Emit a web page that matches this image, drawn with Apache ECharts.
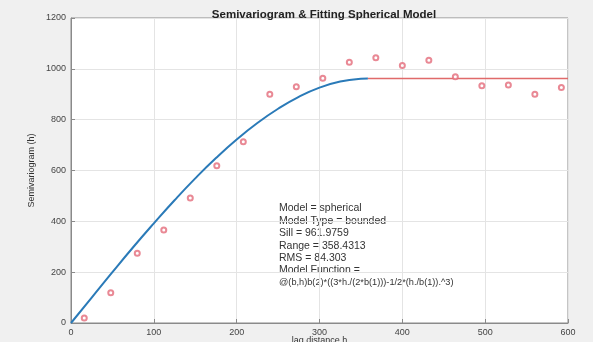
<!DOCTYPE html>
<html>
<head>
<meta charset="utf-8">
<script src="https://cdn.jsdelivr.net/npm/echarts@6/dist/echarts.min.js"></script>
<style>
  html, body { margin: 0; padding: 0; background: #f0f0f0; }
  #chart { width: 593px; height: 342px; }
</style>
</head>
<body>
<div id="chart"></div>
<script>
// experimental semivariogram points (lag, gamma)
const lagValues = [16, 48, 80, 112, 144, 176, 208, 240, 272, 304, 336, 368, 400, 432, 464, 496, 528, 560, 592];
const gammaValues = [20, 119, 274, 366, 492, 619, 713, 900, 930, 963, 1026, 1044, 1013, 1034, 969, 933, 936, 900, 927];

// fitted spherical curve
const modelLag = [0, 25, 50, 75, 100, 125, 150, 175, 200, 225, 250, 275, 300, 325, 350, 358.4313];
const modelGamma = [0, 100, 200, 298, 392, 483, 569, 649, 722, 787, 843, 890, 926, 950, 961, 961.9759];

// sill beyond the range
const sillLag = [358.4313, 600];
const sillGamma = [961.9759, 961.9759];

const xTicks = [0, 100, 200, 300, 400, 500, 600];
const yTicks = [0, 200, 400, 600, 800, 1000, 1200];

const infoLines = [
  "Model = spherical",
  "Model Type = bounded",
  "Sill = 961.9759",
  "Range = 358.4313",
  "RMS = 84.303",
  "Model Function =",
];
const funcLine = "@(b,h)b(2)*((3*h./(2*b(1)))-1/2*(h./b(1)).^3)";

const zip = (xs, ys) => xs.map((x, i) => [x, ys[i]]);

const chart = echarts.init(document.getElementById("chart"));
const option = {
  backgroundColor: "#f0f0f0",
  animation: false,
  title: {
    text: "Semivariogram & Fitting Spherical Model",
    left: 319,
    textAlign: "center",
    top: 4,
    textStyle: { fontSize: 11.5, fontWeight: "bold", color: "#222", fontFamily: "Liberation Sans" },
  },
  grid: {
    left: 71,
    right: 25,
    top: 18,
    bottom: 19,
    outerBoundsMode: "none",
    containLabel: false,
    show: true,
    backgroundColor: "#fff",
    borderColor: "#8a8a8a",
    borderWidth: 1,
  },
  xAxis: {
    type: "value",
    min: xTicks[0],
    max: xTicks[xTicks.length - 1],
    interval: 100,
    name: "lag distance h",
    nameLocation: "middle",
    nameGap: 13,
    nameMoveOverlap: false,
    nameTextStyle: { fontSize: 9, color: "#333", fontFamily: "Liberation Sans" },
    axisLine: { lineStyle: { color: "#8a8a8a" } },
    axisTick: { inside: true, length: 4, lineStyle: { color: "#8a8a8a" } },
    axisLabel: { fontSize: 9, color: "#444", margin: 5, fontFamily: "Liberation Sans" },
    splitLine: { show: true, lineStyle: { color: "#e4e4e4" } },
  },
  yAxis: {
    type: "value",
    min: yTicks[0],
    max: yTicks[yTicks.length - 1],
    interval: 200,
    name: "Semivariogram (h)",
    nameLocation: "middle",
    nameGap: 35,
    nameMoveOverlap: false,
    nameTextStyle: { fontSize: 9, color: "#333", fontFamily: "Liberation Sans" },
    axisLine: { show: true, lineStyle: { color: "#8a8a8a" } },
    axisTick: { show: true, inside: true, length: 4, lineStyle: { color: "#8a8a8a" } },
    axisLabel: { fontSize: 9, color: "#444", margin: 5, fontFamily: "Liberation Sans", formatter: (v) => String(v) },
    splitLine: { show: true, lineStyle: { color: "#e4e4e4" } },
  },
  graphic: [
    {
      type: "text",
      left: 279,
      top: 203,
      style: {
        text: infoLines.map((l) => "{a|" + l + "}").join("\n") + "\n{f|" + funcLine + "}",
        fill: "#333",
        fontFamily: "Liberation Sans",
        rich: {
          a: { fontSize: 10.5, lineHeight: 12.4, fill: "#333", fontFamily: "Liberation Sans" },
          f: { fontSize: 9.2, lineHeight: 12.4, fill: "#333", fontFamily: "Liberation Sans" },
        },
      },
    },
  ],
  series: [
    {
      name: "model",
      type: "line",
      data: zip(modelLag, modelGamma),
      smooth: true,
      symbol: "none",
      lineStyle: { color: "#2a7ab8", width: 2 },
      z: 3,
    },
    {
      name: "sill",
      type: "line",
      data: zip(sillLag, sillGamma),
      symbol: "none",
      lineStyle: { color: "#e06a6a", width: 1.5 },
      z: 3,
    },
    {
      name: "experimental",
      type: "scatter",
      data: zip(lagValues, gammaValues),
      symbol: "emptyCircle",
      symbolSize: 5,
      itemStyle: { color: "#e36b7a", borderColor: "#e36b7a", borderWidth: 1 },
      z: 4,
    },
  ],
};

chart.setOption(option);
window.addEventListener("resize", () => chart.resize());
</script>
</body>
</html>
